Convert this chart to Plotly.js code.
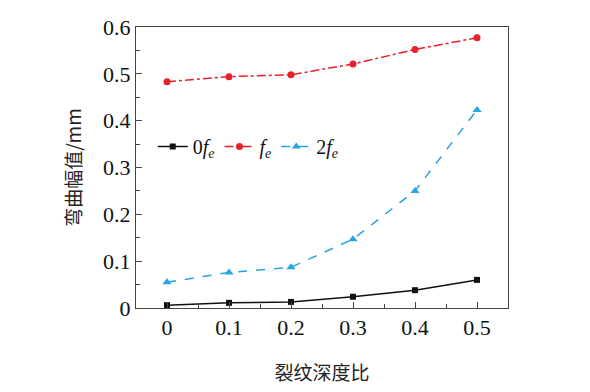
<!DOCTYPE html>
<html><head><meta charset="utf-8">
<script src="https://cdn.plot.ly/plotly-3.0.1.min.js"></script>
<style>html,body{margin:0;padding:0;background:#fff;}#c{width:590px;height:392px;}</style>
</head><body><div id="c"></div>
<script>
const depthRatio = [0, 0.1, 0.2, 0.3, 0.4, 0.5];
const amp0fe = [0.006, 0.011, 0.013, 0.024, 0.038, 0.060];
const ampFe = [0.483, 0.494, 0.498, 0.521, 0.552, 0.577];
const amp2fe = [0.055, 0.076, 0.087, 0.147, 0.250, 0.423];
const names = ['0<i>f</i><sub><i>e</i></sub>', '<i>f</i><sub><i>e</i></sub>', '2<i>f</i><sub><i>e</i></sub>'];
const xTicks = [0, 0.1, 0.2, 0.3, 0.4, 0.5];
const xTickText = ['0', '0.1', '0.2', '0.3', '0.4', '0.5'];
const yTicks = [0, 0.1, 0.2, 0.3, 0.4, 0.5, 0.6];
const yTickText = ['0', '0.1', '0.2', '0.3', '0.4', '0.5', '0.6'];

const serif = 'Liberation Serif';
const cjk = 'Noto Sans CJK SC';

const traces = [
  {x: depthRatio, y: amp0fe, name: names[0], mode: 'lines+markers',
   line: {color: '#111111', width: 1.5, dash: 'solid'},
   marker: {symbol: 'square', size: 6, color: '#111111'}},
  {x: depthRatio, y: ampFe, name: names[1], mode: 'lines+markers',
   line: {color: '#e8202a', width: 1.5, dash: 'dashdot'},
   marker: {symbol: 'circle', size: 7, color: '#e8202a'}},
  {x: depthRatio, y: amp2fe, name: names[2], mode: 'lines+markers',
   line: {color: '#27a4e2', width: 1.5, dash: 'dash'},
   marker: {symbol: 'triangle-up', size: 8, color: '#27a4e2'}}
];

const layout = {
  width: 590, height: 392,
  margin: {l: 136, r: 82, t: 27, b: 84},
  paper_bgcolor: '#fff', plot_bgcolor: '#fff',
  font: {family: serif, size: 22},
  showlegend: true,
  legend: {orientation: 'h', x: 0.045, y: 0.575, xanchor: 'left', yanchor: 'middle',
           font: {family: serif, size: 20, color: '#111'}, bgcolor: 'rgba(0,0,0,0)',
           itemwidth: 30, tracegroupgap: 0, itemclick: false},
  xaxis: {
    showline: true, linecolor: '#444', linewidth: 1, mirror: true,
    ticks: 'inside', ticklen: 6, tickcolor: '#444', tickwidth: 1,
    showgrid: false, zeroline: false,
    tickfont: {family: serif, size: 22, color: '#111'},
    range: [-0.05, 0.55], tickvals: xTicks, ticktext: xTickText,
    minor: {ticks: 'inside', ticklen: 4, tickcolor: '#444', tickwidth: 1, tick0: 0.05, dtick: 0.1},
    title: {text: '裂纹深度比', font: {family: cjk, size: 19, color: '#222'}, standoff: 27}
  },
  yaxis: {
    showline: true, linecolor: '#444', linewidth: 1, mirror: true,
    ticks: 'inside', ticklen: 6, tickcolor: '#444', tickwidth: 1,
    showgrid: false, zeroline: false,
    tickfont: {family: serif, size: 22, color: '#111'},
    range: [0, 0.6], tickvals: yTicks, ticktext: yTickText,
    minor: {ticks: 'inside', ticklen: 4, tickcolor: '#444', tickwidth: 1, tick0: 0.05, dtick: 0.1},
    title: {text: '弯曲幅值/mm', font: {family: cjk, size: 19, color: '#222'}, standoff: 16}
  }
};

Plotly.newPlot('c', traces, layout, {displayModeBar: false, staticPlot: true});
</script></body></html>
